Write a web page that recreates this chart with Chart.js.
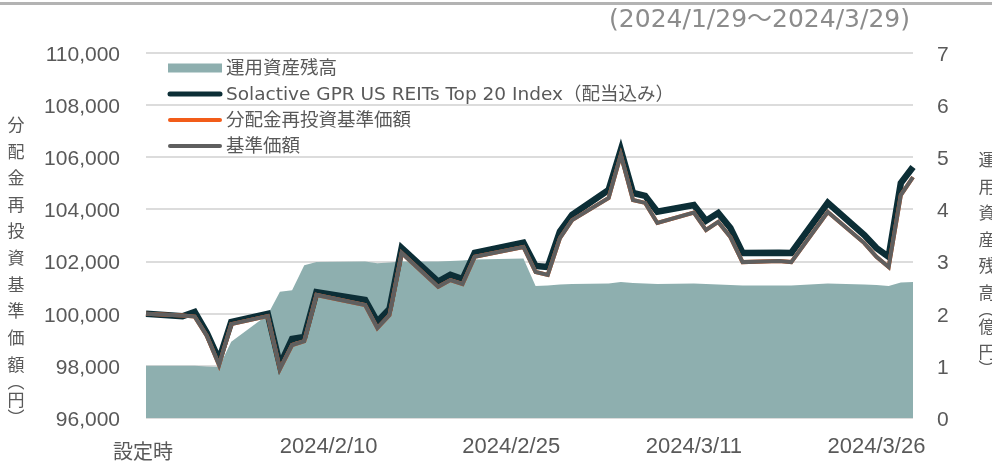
<!DOCTYPE html>
<html>
<head>
<meta charset="utf-8">
<script src="https://cdn.jsdelivr.net/npm/chart.js@4.4.1/dist/chart.umd.min.js"></script>
<style>
  html, body { margin: 0; padding: 0; background: #fff; }
  #wrap { width: 992px; height: 461px; position: relative; }
</style>
</head>
<body>
<div id="wrap"><canvas id="chart"></canvas></div>
<script>
// trading days shown on the chart (first one is the fund launch)
const dates = [
  "2024/1/26", "2024/1/29", "2024/1/30", "2024/1/31",
  "2024/2/1", "2024/2/2", "2024/2/5", "2024/2/6", "2024/2/7", "2024/2/8", "2024/2/9",
  "2024/2/13", "2024/2/14", "2024/2/15", "2024/2/16", "2024/2/19", "2024/2/20",
  "2024/2/21", "2024/2/22", "2024/2/26", "2024/2/27", "2024/2/28", "2024/2/29",
  "2024/3/1", "2024/3/4", "2024/3/5", "2024/3/6", "2024/3/7", "2024/3/8",
  "2024/3/11", "2024/3/12", "2024/3/13", "2024/3/14", "2024/3/15", "2024/3/18",
  "2024/3/19", "2024/3/22", "2024/3/25", "2024/3/26", "2024/3/27", "2024/3/28", "2024/3/29"
];

// 運用資産残高 (億円)
const aum = [
  1.0, 1.0, 1.0, 0.99,
  0.98, 1.46, 1.98, 2.42, 2.45, 2.93, 2.99,
  3.0, 2.97, 2.98, 3.0, 3.0, 3.01,
  3.02, 3.04, 3.06, 2.53, 2.54, 2.56,
  2.57, 2.58, 2.61, 2.59, 2.58, 2.57,
  2.58, 2.57, 2.56, 2.55, 2.54, 2.54,
  2.54, 2.58, 2.56, 2.55, 2.53, 2.6, 2.61
];

// Solactive GPR US REITs Top 20 Index (rebased)
const indexValues = [
  100000, 99900, 100070, 99260,
  98230, 99680, 99990, 98030, 99030, 99110, 100830,
  100530, 99690, 100180, 102520, 101230, 101490,
  101330, 102330, 102720, 101830, 101790, 103150,
  103790, 104750, 106280, 104630, 104520, 103910,
  104170, 103570, 103860, 103290, 102330, 102340,
  102330, 104250, 103020, 102520, 102180, 105010, 105630
];

// 基準価額 (no distribution yet, so the reinvested series is the same)
const nav = [
  100000, 99930, 99890, 99150,
  98030, 99600, 99910, 97880, 98800, 98950, 100720,
  100330, 99450, 99950, 102330, 101030, 101290,
  101140, 102180, 102560, 101600, 101490, 102900,
  103590, 104440, 106090, 104360, 104250, 103480,
  103880, 103210, 103520, 102940, 101980, 102020,
  101980, 103900, 102710, 102180, 101790, 104550, 105240
];
const navReinvested = nav.slice();

const xTickLabels = ["2024/2/10", "2024/2/25", "2024/3/11", "2024/3/26"];
const axisStart = "2024/1/26";
const axisEnd = "2024/3/29";

function dayOf(s) {
  const p = s.split("/").map(Number);
  const a = axisStart.split("/").map(Number);
  return (Date.UTC(p[0], p[1] - 1, p[2]) - Date.UTC(a[0], a[1] - 1, a[2])) / 86400000;
}
const points = (vals) => dates.map((d, i) => ({ x: dayOf(d), y: vals[i] }));

const GREY_TEXT = "#595959";
const JP = '"Noto Sans CJK JP", sans-serif';

function drawVertical(ctx, chars, x, ys) {
  chars.forEach((c, i) => ctx.fillText(c, x, ys[i]));
}

const decorations = {
  id: "decorations",
  afterDraw(chart) {
    const ctx = chart.ctx;
    ctx.save();
    // thin rule at the very top
    ctx.fillStyle = "#b3b3b3";
    ctx.fillRect(0, 2, 992, 3);

    // period title
    ctx.fillStyle = "#8c8c8c";
    ctx.font = '25px "DejaVu Sans", ' + JP;
    ctx.textAlign = "right";
    ctx.textBaseline = "middle";
    ctx.fillText("(2024/1/29\uFF5E2024/3/29)", 910, 20);

    // axis titles written top to bottom
    ctx.fillStyle = GREY_TEXT;
    ctx.font = "17px " + JP;
    ctx.textAlign = "center";
    const left = ["分","配","金","再","投","資","基","準","価","額","︵","円","︶"];
    const leftY = [125,152,178,205,231,258,285,311,338,365,382,400,418];
    drawVertical(ctx, left, 16, leftY);
    const right = ["運","用","資","産","残","高","︵","億","円","︶"];
    const rightY = [160,187,213,240,266,293,310,327,352,369];
    drawVertical(ctx, right, 987, rightY);

    // launch label under the first point
    ctx.font = "20px " + JP;
    ctx.fillText("設定時", 143, 451);

    // legend
    ctx.textAlign = "left";
    ctx.font = '18.5px "DejaVu Sans", ' + JP;
    chart.data.datasets.forEach((ds, i) => {
      const y = 68 + i * 26;
      if (ds.fill) {
        ctx.fillStyle = ds.backgroundColor;
        ctx.fillRect(168, y - 4.5, 54, 9);
      } else {
        ctx.strokeStyle = ds.borderColor;
        ctx.lineWidth = Math.min(ds.borderWidth, 5);
        ctx.lineCap = "round";
        ctx.beginPath();
        ctx.moveTo(170, y);
        ctx.lineTo(220, y);
        ctx.stroke();
      }
      ctx.fillStyle = GREY_TEXT;
      ctx.fillText(ds.label, 226, y + 1);
    });
    ctx.restore();
  }
};

new Chart(document.getElementById("chart"), {
  type: "line",
  data: {
    datasets: [
      {
        label: "運用資産残高",
        data: points(aum),
        yAxisID: "y1",
        fill: "origin",
        backgroundColor: "#8eafaf",
        borderWidth: 0,
        pointRadius: 0,
        order: 4
      },
      {
        label: "Solactive GPR US REITs Top 20 Index（配当込み）",
        data: points(indexValues),
        yAxisID: "y",
        borderColor: "#0c2e36",
        borderWidth: 6.5,
        pointRadius: 0,
        clip: 5,
        order: 3
      },
      {
        label: "分配金再投資基準価額",
        data: points(navReinvested),
        yAxisID: "y",
        borderColor: "#f25c19",
        borderWidth: 4,
        pointRadius: 0,
        clip: 5,
        order: 2
      },
      {
        label: "基準価額",
        data: points(nav),
        yAxisID: "y",
        borderColor: "#5f5f5f",
        borderWidth: 4,
        pointRadius: 0,
        clip: 5,
        order: 1
      }
    ]
  },
  options: {
    responsive: true,
    maintainAspectRatio: false,
    devicePixelRatio: 1,
    animation: false,
    layout: { padding: { top: 53, left: 0, right: 0, bottom: 0 } },
    plugins: { legend: { display: false }, tooltip: { enabled: false } },
    scales: {
      x: {
        type: "linear",
        min: 0,
        max: dayOf(axisEnd),
        afterBuildTicks: (s) => { s.ticks = xTickLabels.map((l) => ({ value: dayOf(l) })); },
        afterFit: (s) => { s.height = 43; },
        grid: { display: false },
        border: { display: false },
        ticks: {
          autoSkip: false,
          maxRotation: 0,
          padding: 8,
          color: GREY_TEXT,
          font: { family: '"Liberation Sans", Arial, sans-serif', size: 22 },
          callback: (v) => xTickLabels.find((l) => dayOf(l) === v) || ""
        }
      },
      y: {
        position: "left",
        min: 96000,
        max: 110000,
        afterFit: (s) => { s.width = 146; },
        grid: { color: "#dcdcdc", lineWidth: 2, drawTicks: false },
        border: { display: false },
        ticks: {
          stepSize: 2000,
          padding: 26,
          labelOffset: 2,
          color: GREY_TEXT,
          font: { family: '"Liberation Sans", Arial, sans-serif', size: 21 },
          callback: (v) => v.toLocaleString("en-US")
        }
      },
      y1: {
        position: "right",
        min: 0,
        max: 7,
        afterFit: (s) => { s.width = 79; },
        grid: { display: false, drawTicks: false },
        border: { display: false },
        ticks: {
          stepSize: 1,
          padding: 24,
          labelOffset: 2,
          color: GREY_TEXT,
          font: { family: '"Liberation Sans", Arial, sans-serif', size: 21 }
        }
      }
    }
  },
  plugins: [decorations]
});
</script>
</body>
</html>
